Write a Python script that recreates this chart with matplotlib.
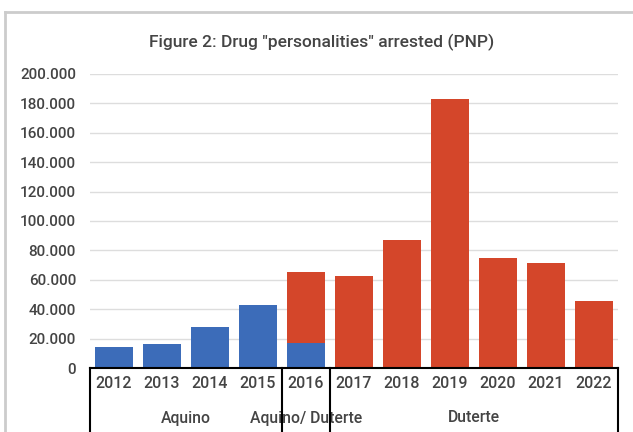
import matplotlib
matplotlib.use("Agg")
import matplotlib.pyplot as plt
import matplotlib.transforms as mtransforms
from matplotlib.lines import Line2D
from matplotlib.ticker import FuncFormatter

years = ["2012", "2013", "2014", "2015", "2016", "2017", "2018", "2019", "2020", "2021", "2022"]
aquino = [14300, 16300, 27900, 42900, 17000, 0, 0, 0, 0, 0, 0]
duterte = [0, 0, 0, 0, 48300, 62600, 87000, 183000, 74800, 71400, 45600]
groups = ["Aquino", "Aquino/ Duterte", "Duterte"]
group_bounds = [(-0.5, 3.5), (3.5, 4.5), (4.5, 10.5)]
title = 'Figure 2: Drug "personalities" arrested (PNP)'

plt.rcParams['font.family'] = ['Roboto', 'DejaVu Sans']
W, H = 633, 432
fig = plt.figure(figsize=(W / 100, H / 100), dpi=100)
ax = fig.add_axes([90 / W, 1 - 368 / H, (618 - 90) / W, (368 - 74) / H])

x = list(range(len(years)))
blue = "#3c6cb9"
red = "#d4462a"
ax.bar(x, aquino, width=0.8, color=blue, zorder=3)
ax.bar(x, duterte, width=0.8, bottom=aquino, color=red, zorder=3)

ax.set_xlim(-0.5, len(years) - 0.5)
ax.set_ylim(0, 200000)
ax.set_yticks(range(0, 200001, 20000))
ax.yaxis.set_major_formatter(FuncFormatter(lambda v, p: "0" if v == 0 else f"{int(v):,}".replace(",", ".")))
ax.grid(axis="y", color="#dddddd", linewidth=1.0, zorder=0)
for s in ["top", "right", "left"]:
    ax.spines[s].set_visible(False)
ax.spines["bottom"].set_color("black")
ax.spines["bottom"].set_linewidth(1.5)
ax.spines["bottom"].set_zorder(4)
ax.tick_params(axis="y", length=0, pad=10, labelsize=11, labelcolor="#444444")
ax.set_xticks(x)
ax.set_xticklabels(years)
ax.tick_params(axis="x", length=0, pad=6, labelsize=11.5, labelcolor="#444444")
for lbl in ax.get_xticklabels() + ax.get_yticklabels():
    lbl.set_fontweight("medium")

trans = mtransforms.blended_transform_factory(ax.transData, ax.transAxes)
bottom_y = -(H - 368) / (368 - 74) - 0.02
bounds = sorted(set([b for g in group_bounds for b in g]))
for b in bounds:
    ax.add_line(Line2D([b, b], [0, bottom_y], transform=trans, color="black",
                       linewidth=1.5, clip_on=False, zorder=5))
for name, (a, b) in zip(groups, group_bounds):
    ax.text((a + b) / 2, -(418 - 368) / (368 - 74), name, transform=trans,
            ha="center", va="center", fontsize=11.3, color="#444444", zorder=4,
            fontweight="medium")

fig.text(322 / W, 1 - 42 / H, title, ha="center", va="center", fontsize=12.5,
         color="#444444", fontweight="medium")

# outer frame
fig.add_artist(Line2D([5 / W, 1.0], [1 - 12 / H, 1 - 12 / H], transform=fig.transFigure,
                      color="#cccccc", linewidth=2))
fig.add_artist(Line2D([5 / W, 5 / W], [1 - 12 / H, 0], transform=fig.transFigure,
                      color="#cccccc", linewidth=2))

fig.savefig("out.png", dpi=100)
